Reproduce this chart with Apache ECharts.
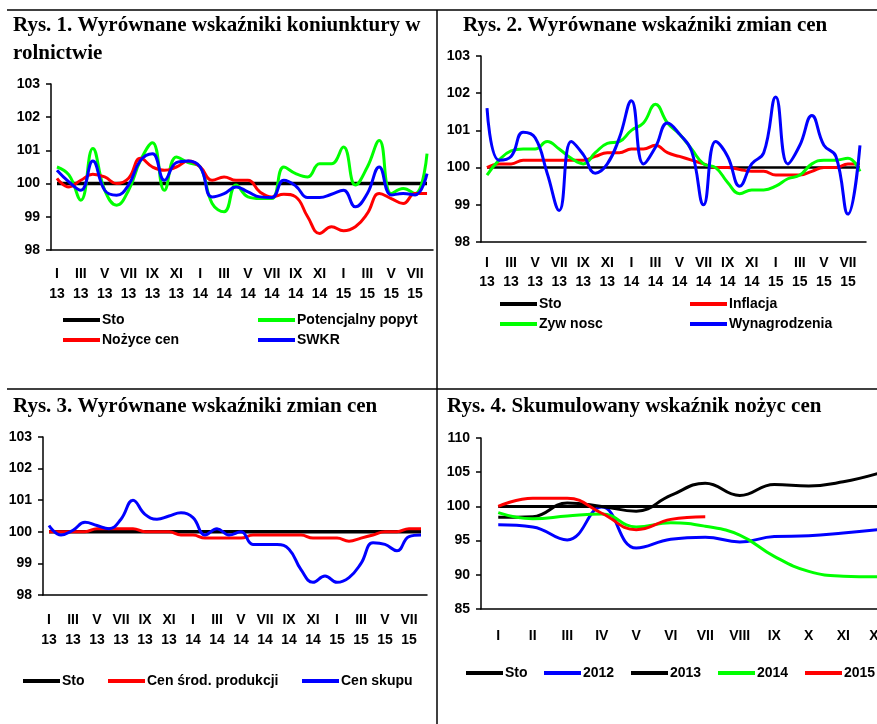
<!DOCTYPE html>
<html>
<head>
<meta charset="utf-8">
<script src="https://cdn.jsdelivr.net/npm/echarts@6.0.0/dist/echarts.min.js"></script>
<style>
  html, body { margin: 0; padding: 0; background: #fff; }
  #main { width: 877px; height: 724px; }
</style>
</head>
<body>
<div id="main"></div>
<script>
// miesiace I 2013 - VIII 2015
const ROMAN = ['I', 'II', 'III', 'IV', 'V', 'VI', 'VII', 'VIII', 'IX', 'X', 'XI', 'XII'];
const monthCats = [];
for (let k = 0; k < 32; k++) {
  monthCats.push(ROMAN[k % 12] + '\n' + (13 + Math.floor(k / 12)));
}
const yearCats = ROMAN;

// Rys. 1
const sto1 = new Array(32).fill(100);
const popyt = [100.5, 100.26, 99.5, 101.06, 99.8, 99.35, 99.8, 100.7, 101.23, 99.8, 100.8, 100.63, 100.5, 99.4, 99.15, 99.96,
  99.6, 99.55, 99.55, 100.5, 100.3, 100.2, 100.6, 100.6, 101.1, 99.96, 100.5, 101.3, 99.7, 99.85, 99.7, 100.9];
const nozyce = [100.16, 99.9, 100.1, 100.28, 100.2, 100.0, 100.16, 100.76, 100.5, 100.4, 100.5, 100.68, 100.5, 100.1, 100.2, 100.1,
  100.1, 99.75, 99.6, 99.68, 99.6, 99.0, 98.5, 98.7, 98.58, 98.7, 99.1, 99.7, 99.55, 99.4, 99.7, 99.7];
const swkr = [100.4, 100.05, 99.8, 100.68, 99.8, 99.65, 99.96, 100.7, 100.9, 100.1, 100.63, 100.68, 100.5, 99.6, 99.7, 99.9,
  99.75, 99.6, 99.58, 100.1, 99.93, 99.58, 99.58, 99.68, 99.8, 99.3, 99.7, 100.5, 99.66, 99.7, 99.66, 100.3];

// Rys. 2
const sto2 = new Array(32).fill(100);
const inflacja = [100.0, 100.1, 100.1, 100.2, 100.2, 100.2, 100.2, 100.2, 100.2, 100.3, 100.4, 100.4, 100.5, 100.5, 100.6, 100.4,
  100.3, 100.2, 100.1, 100.0, 100.0, 99.95, 99.9, 99.9, 99.8, 99.8, 99.8, 99.9, 100.0, 100.0, 100.1, 100.1];
const zywnosc = [99.8, 100.2, 100.45, 100.5, 100.5, 100.7, 100.5, 100.25, 100.1, 100.4, 100.65, 100.7, 101.0, 101.2, 101.7, 101.2,
  100.9, 100.5, 100.1, 100.0, 99.6, 99.3, 99.4, 99.4, 99.5, 99.7, 99.8, 100.1, 100.2, 100.2, 100.25, 99.9];
const wynagrodzenia = [101.6, 100.2, 100.3, 100.95, 100.8, 99.85, 98.85, 100.7, 100.35, 99.85, 100.1, 100.8, 101.8, 100.1, 100.55, 101.2,
  100.9, 100.45, 99.0, 100.7, 100.3, 99.5, 100.1, 100.4, 101.9, 100.1, 100.6, 101.4, 100.6, 100.3, 98.75, 100.6];

// Rys. 3
const sto3 = new Array(32).fill(100);
const srodProd = [100.0, 100.0, 100.0, 100.0, 100.1, 100.1, 100.1, 100.1, 100.0, 100.0, 100.0, 99.9, 99.9, 99.8, 99.8, 99.8,
  99.8, 99.9, 99.9, 99.9, 99.9, 99.9, 99.8, 99.8, 99.8, 99.7, 99.8, 99.9, 100.0, 100.0, 100.1, 100.1];
const skup = [100.2, 99.9, 100.05, 100.3, 100.2, 100.1, 100.4, 101.0, 100.55, 100.4, 100.5, 100.6, 100.45, 99.9, 100.1, 99.9,
  100.0, 99.6, 99.6, 99.6, 99.45, 98.8, 98.4, 98.6, 98.4, 98.55, 99.0, 99.65, 99.6, 99.4, 99.85, 99.9];

// Rys. 4
const sto4 = new Array(12).fill(100);
const y2012 = [97.3, 97.0, 95.1, 99.9, 93.9, 95.2, 95.5, 94.8, 95.6, 95.7, 96.1, 96.6];
const y2013 = [98.4, 98.5, 100.5, 100.0, 99.3, 101.6, 103.4, 101.6, 103.2, 103.0, 103.6, 104.8];
const y2014 = [99.1, 98.2, 98.6, 98.9, 97.0, 97.6, 97.1, 95.8, 92.7, 90.5, 89.8, 89.7];
const y2015 = [100.0, 101.2, 101.2, 99.0, 96.6, 98.1, 98.5];

const FONT = 'Liberation Sans';
const BLACK = '#000000', RED = '#ff0000', GREEN = '#00ff00', BLUE = '#0000ff';

function title (text, left, top) {
  return {
    text: text, left: left, top: top, padding: 0,
    textStyle: { fontFamily: 'Liberation Serif', fontWeight: 'bold', fontSize: 21, lineHeight: 28, color: '#000' }
  };
}

function xAxis (idx, cats, every, lh, margin) {
  return {
    type: 'category', gridIndex: idx, data: cats, boundaryGap: true,
    axisLine: { lineStyle: { color: '#000', width: 1.5 } },
    axisTick: { interval: every, length: 5, lineStyle: { color: '#000', width: 1.5 } },
    axisLabel: { interval: every, color: '#000', fontFamily: FONT, fontWeight: 'bold', fontSize: 14, lineHeight: lh, margin: margin,
      hideOverlap: false },
    splitLine: { show: false }
  };
}

function yAxis (idx, min, max, step) {
  return {
    type: 'value', gridIndex: idx, min: min, max: max, interval: step,
    axisLine: { show: true, lineStyle: { color: '#000', width: 1.5 } },
    axisTick: { show: true, length: 5, lineStyle: { color: '#000', width: 1.5 } },
    axisLabel: { color: '#000', fontFamily: FONT, fontWeight: 'bold', fontSize: 14, margin: 11 },
    splitLine: { show: false }
  };
}

function line (name, data, color, idx, width) {
  return {
    name: name, type: 'line', data: data, xAxisIndex: idx, yAxisIndex: idx,
    smooth: 0.45, showSymbol: false, symbol: 'none', animation: false,
    lineStyle: { color: color, width: width || 3 }, itemStyle: { color: color }
  };
}

function legend (name, left, cy) {
  return {
    data: [name], left: left, top: cy - 8, padding: 0,
    icon: 'rect', itemWidth: 37, itemHeight: 4, itemGap: 0,
    selectedMode: false,
    textStyle: { fontFamily: FONT, fontWeight: 'bold', fontSize: 14, color: '#000', padding: [0, 0, 0, -3] }
  };
}

function grid (left, top, width, height) {
  return { left: left, top: top, width: width, height: height, containLabel: false, outerBoundsMode: 'none' };
}

const chart = echarts.init(document.getElementById('main'), null, { renderer: 'canvas' });

chart.setOption({
  backgroundColor: '#fff',
  animation: false,
  title: [
    title('Rys. 1. Wyrównane wskaźniki koniunktury w\nrolnictwie', 13, 12),
    title('Rys. 2. Wyrównane wskaźniki zmian cen', 463, 12),
    title('Rys. 3. Wyrównane wskaźniki zmian cen', 13, 393),
    title('Rys. 4. Skumulowany wskaźnik nożyc cen', 447, 393)
  ],
  grid: [
    grid(51, 84, 382, 166),
    grid(481, 56, 385, 186),
    grid(43, 437, 384, 158),
    grid(481, 438, 414, 171)
  ],
  xAxis: [
    xAxis(0, monthCats, 1, 20, 14),
    xAxis(1, monthCats, 1, 19, 12),
    xAxis(2, monthCats, 1, 20, 15),
    xAxis(3, yearCats, 0, 20, 17)
  ],
  yAxis: [
    yAxis(0, 98, 103, 1),
    yAxis(1, 98, 103, 1),
    yAxis(2, 98, 103, 1),
    yAxis(3, 85, 110, 5)
  ],
  legend: [
    legend('Sto', 63, 321),
    legend('Potencjalny popyt', 258, 321),
    legend('Nożyce cen', 63, 341),
    legend('SWKR', 258, 341),
    legend('Inflacja', 690, 305),
    legend('Zyw nosc', 500, 325),
    legend('Wynagrodzenia', 690, 325),
    legend('Cen środ. produkcji', 108, 682),
    legend('Cen skupu', 302, 682),
    legend('2012', 544, 674),
    legend('2013', 631, 674),
    legend('2014', 718, 674),
    legend('2015', 805, 674),
    legend('Sto', 500, 305),
    legend('Sto', 23, 682),
    legend('Sto', 466, 674)
  ],
  graphic: [
    { type: 'line', shape: { x1: 7, y1: 10, x2: 877, y2: 10 }, style: { stroke: '#000', lineWidth: 1.5 } },
    { type: 'line', shape: { x1: 7, y1: 389, x2: 877, y2: 389 }, style: { stroke: '#000', lineWidth: 1.5 } },
    { type: 'line', shape: { x1: 437, y1: 10, x2: 437, y2: 724 }, style: { stroke: '#000', lineWidth: 1.5 } }
  ],
  series: [
    line('Sto', sto1, BLACK, 0, 3.5),
    line('Potencjalny popyt', popyt, GREEN, 0),
    line('Nożyce cen', nozyce, RED, 0),
    line('SWKR', swkr, BLUE, 0),

    line('Sto', sto2, BLACK, 1, 2.5),
    line('Inflacja', inflacja, RED, 1),
    line('Zyw nosc', zywnosc, GREEN, 1),
    line('Wynagrodzenia', wynagrodzenia, BLUE, 1),

    line('Sto', sto3, BLACK, 2, 3.5),
    line('Cen środ. produkcji', srodProd, RED, 2),
    line('Cen skupu', skup, BLUE, 2),

    line('Sto', sto4, BLACK, 3, 3),
    line('2012', y2012, BLUE, 3),
    line('2013', y2013, BLACK, 3),
    line('2014', y2014, GREEN, 3),
    line('2015', y2015, RED, 3)
  ]
});
</script>
</body>
</html>
